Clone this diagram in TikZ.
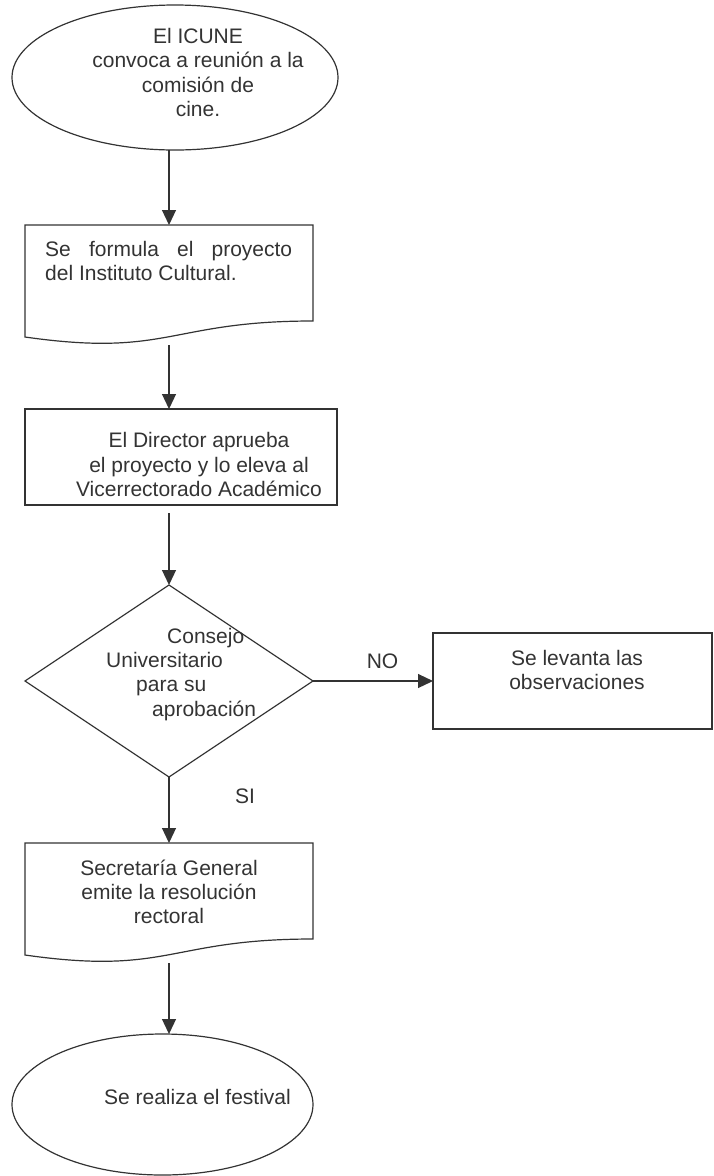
\documentclass[tikz,border=0pt]{standalone}
\usepackage{fontspec}
\setmainfont{Liberation Sans}
\usetikzlibrary{shapes.geometric,arrows.meta}
\definecolor{ink}{HTML}{333333}
% strut that fixes the height of a first text line
\newcommand{\st}{\rule{0pt}{17pt}}
\begin{document}
\begin{tikzpicture}[x=1pt,y=-1pt,
  every node/.style={text=ink, font=\fontsize{21}{24.3}\selectfont},
  shapeline/.style={draw=ink, line width=1.2pt},
  term/.style={shapeline, ellipse, inner sep=0pt, outer sep=0pt},
  proc/.style={shapeline, rectangle, inner sep=0pt, outer sep=0pt},
  decis/.style={shapeline, diamond, inner sep=0pt, outer sep=0pt},
  docframe/.style={rectangle, draw=none, inner sep=0pt, outer sep=0pt,
    minimum width=288pt, minimum height=120pt},
  txt/.style={inner sep=0pt, align=center},
  flow/.style={draw=ink, line width=1.2pt, -{Triangle[length=15pt,width=14pt]}},
]
\useasboundingbox (0,0) rectangle (713,1176);

% start terminal
\node[term, minimum width=326pt, minimum height=145pt] (start) at (175,77.5) {};
\node[txt, anchor=north] (startT) at (198,26.3)
  {\st El ICUNE\\convoca a reunión a la\\comisión de\\cine.};

% first document
\node[docframe] (doc1) at (169,285) {};
\draw[shapeline] (doc1.north west) -- (doc1.north east)
  -- ([yshift=24pt]doc1.south east)
  .. controls ([yshift=24pt]doc1.south) and ([yshift=-12.6pt]doc1.south) ..
  ([yshift=8pt]doc1.south west) -- cycle;
\node[inner sep=0pt, text width=247pt, align=justify, anchor=north west] (doc1T) at (45,239)
  {\st Se formula el proyecto\linebreak del Instituto Cultural.};

% approval by the director
\node[proc, minimum width=312pt, minimum height=96pt] (approve) at (181,457) {};
\node[txt, anchor=north] (approveT) at (199,430.7)
  {\st El Director aprueba\\el proyecto y lo eleva al\\Vicerrectorado Académico};

% decision
\node[decis, minimum width=288pt, minimum height=192pt] (council) at (169,681) {};
\node[inner sep=0pt, align=left, anchor=north west] (councilT) at (106,626)
  {\st\hspace*{61pt}Consejo\\Universitario\\\hspace*{30pt}para su\\\hspace*{46pt}aprobación};

% rejected branch
\node[proc, minimum width=279pt, minimum height=96pt] (fix) at (572.5,681) {};
\node[txt, anchor=north] (fixT) at (577,648) {\st Se levanta las\\observaciones};

% second document
\node[docframe] (doc2) at (169,903) {};
\draw[shapeline] (doc2.north west) -- (doc2.north east)
  -- ([yshift=24pt]doc2.south east)
  .. controls ([yshift=24pt]doc2.south) and ([yshift=-12.6pt]doc2.south) ..
  ([yshift=8pt]doc2.south west) -- cycle;
\node[txt, anchor=north] (doc2T) at (169,858)
  {\st Secretaría General\\emite la resolución\\rectoral};

% end terminal
\node[term, minimum width=301pt, minimum height=141pt] (finish) at (162.5,1104.5) {};
\node[txt, anchor=base] (finishT) at (197.5,1104) {Se realiza el festival};

% branch labels
\node[inner sep=0pt, anchor=base] (noLbl) at (382.5,668) {NO};
\node[inner sep=0pt, anchor=base] (siLbl) at (245,803) {SI};

% connectors
\draw[flow] (doc1.north |- start.south) -- (doc1.north);
\draw[flow] (doc1.south) -- (doc1.south |- approve.north);
\draw[flow, shorten <=8pt] (doc1.south |- approve.south) -- (council.north);
\draw[flow] (council.east) -- (fix.west);
\draw[flow] (council.south) -- (doc2.north);
\draw[flow] (doc2.south) -- (doc2.south |- finish.north);
\end{tikzpicture}
\end{document}
